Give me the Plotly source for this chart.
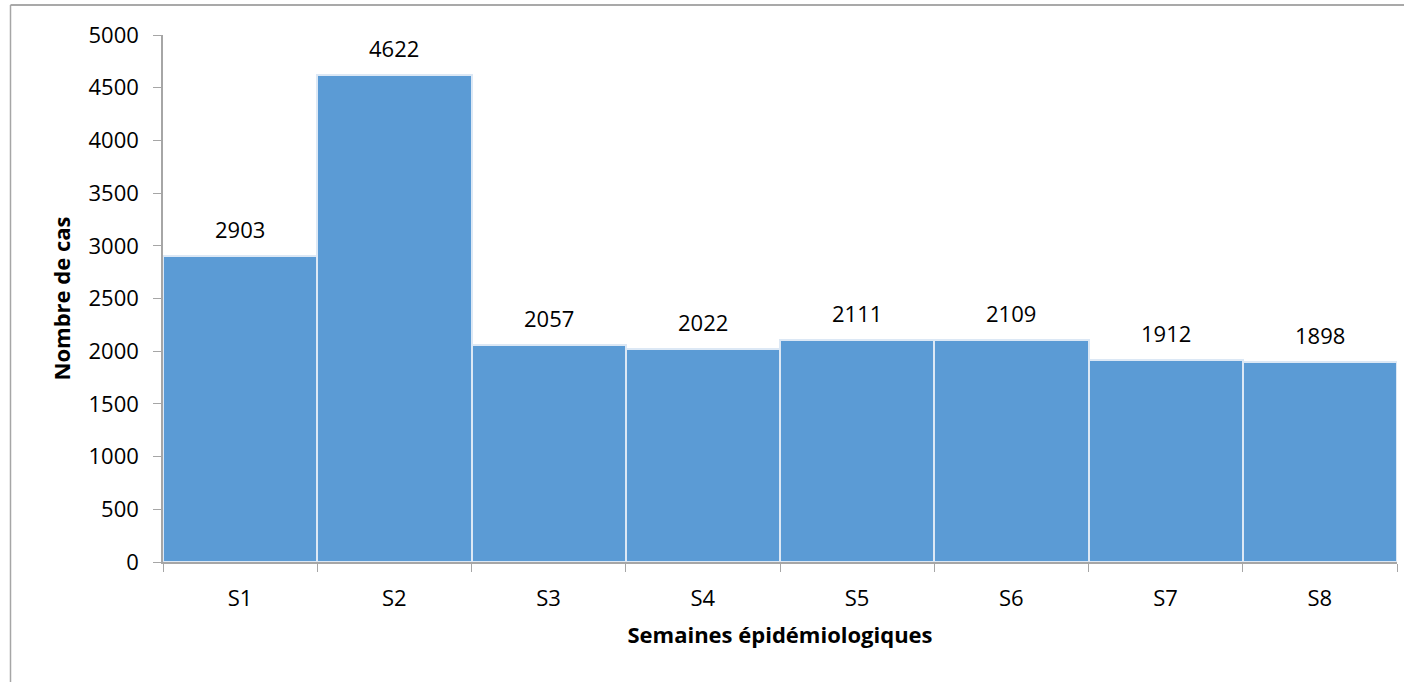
import plotly.graph_objects as go

# Weekly case counts
weeks = ["S1", "S2", "S3", "S4", "S5", "S6", "S7", "S8"]
cases = [2903, 4622, 2057, 2022, 2111, 2109, 1912, 1898]
y_ticks = [0, 500, 1000, 1500, 2000, 2500, 3000, 3500, 4000, 4500, 5000]

FONT = "Open Sans"
SIZE = 22
AXIS_GREY = "#a6a6a6"

fig = go.Figure()
fig.add_trace(go.Bar(
    x=weeks, y=cases,
    marker=dict(color="#5b9bd5", line=dict(color="#dce8f5", width=2)),
    hoverinfo="x+y",
))

# value labels above the bars
for w, c in zip(weeks, cases):
    fig.add_annotation(x=w, y=c, text=str(c), showarrow=False,
                       yanchor="bottom", yshift=10,
                       font=dict(family=FONT, size=SIZE, color="#000000"))

fig.update_layout(
    width=1404, height=682,
    margin=dict(l=163, r=7, t=35, b=120),
    paper_bgcolor="white", plot_bgcolor="white",
    bargap=0, showlegend=False,
    font=dict(family=FONT, size=SIZE, color="#000000"),
)
fig.update_xaxes(
    showline=True, linecolor=AXIS_GREY, linewidth=1.5,
    ticks="outside", tickson="boundaries", ticklen=8, tickcolor=AXIS_GREY,
    tickfont=dict(family=FONT, size=SIZE), ticklabelstandoff=16,
    title=dict(text="<b>Semaines épidémiologiques</b>", standoff=16,
               font=dict(family=FONT, size=SIZE)),
)
fig.update_yaxes(
    range=[0, 5000], tickvals=y_ticks, showgrid=False, zeroline=False,
    showline=True, linecolor=AXIS_GREY, linewidth=1.5,
    ticks="outside", ticklen=8, tickcolor=AXIS_GREY,
    tickfont=dict(family=FONT, size=SIZE), ticklabelstandoff=10,
    title=dict(text="<b>Nombre de cas</b>", standoff=12,
               font=dict(family=FONT, size=SIZE)),
)

# outer chart frame (left and top edges visible)
fig.add_shape(type="line", xref="paper", yref="paper",
              x0=(10.5 - 163) / 1234, x1=(1420 - 163) / 1234,
              y0=1 + 30 / 527, y1=1 + 30 / 527,
              line=dict(color="#8c8c8c", width=1.5))
fig.add_shape(type="line", xref="paper", yref="paper",
              x0=(10.5 - 163) / 1234, x1=(10.5 - 163) / 1234,
              y0=1 + 30 / 527, y1=-0.3,
              line=dict(color="#a6a6a6", width=1.5))

fig.write_html("out.html", config={"displayModeBar": False},
               post_script="document.body.style.margin='0';")
